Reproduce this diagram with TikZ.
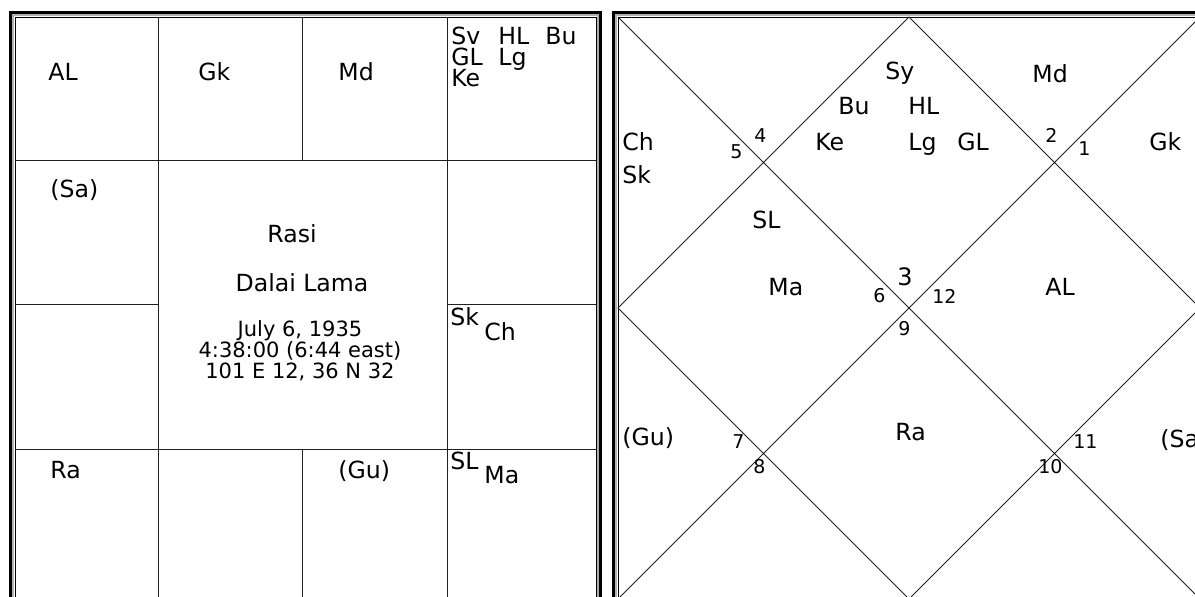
\documentclass[tikz,border=0pt]{standalone}
\usepackage{fontspec}
\setmainfont{DejaVu Sans}
\usepackage{xcolor}
\usetikzlibrary{positioning}
\definecolor{chgray}{HTML}{B0B0B0}
\definecolor{chline}{HTML}{202020}

\begin{document}
\begin{tikzpicture}[
    x=0.5pt, y=-0.5pt,
    font=\fontsize{11.8}{14}\selectfont,
    lbl/.style={anchor=base west, inner sep=0pt},
    mid/.style={anchor=base, inner sep=0pt},
    small/.style={mid, font=\fontsize{10.5}{13}\selectfont},
    num/.style={anchor=base west, inner sep=0pt, font=\fontsize{9.5}{11}\selectfont},
    frameout/.style={line width=1.75pt, draw=black},
    framemid/.style={line width=0.75pt, draw=chgray},
    framein/.style={line width=0.5pt, draw=black},
    cell/.style={line width=0.5pt, draw=chline}
  ]
    \useasboundingbox (0,0) rectangle (1195,596);
    \clip (0,0) rectangle (1195,596);

    % south indian chart (left)
    \draw[frameout] (10.5,12.5) rectangle (600.5,602.5);
    \draw[framemid] (13,15) rectangle (598,600);
    \draw[framein] (15,17) rectangle (596,598);
    \draw[cell] (158,17) -- (158,160) (302,17) -- (302,160) (447,17) -- (447,598)
      (15,160) -- (596,160) (15,449) -- (596,449) (158,449) -- (158,598) (302,449) -- (302,598)
      (158,160) -- (158,449) (15,304) -- (158,304) (447,304) -- (596,304);

    \node[lbl] (sAL) at (48,80) {AL};
    \node[lbl] (sGk) at (198,80) {Gk};
    \node[lbl] (sMd) at (338,80) {Md};
    \node[lbl] (sSv) at (451,44) {\makebox[23.5pt][l]{Sv}\makebox[23.5pt][l]{HL}Bu};
    \node[lbl] (sGL) at (451,65) {\makebox[23.5pt][l]{GL}Lg};
    \node[lbl] (sKe) at (451,86) {Ke};
    \node[lbl] (sSa) at (50,197) {(Sa)};
    \node[lbl] (sSk) at (450,325) {Sk};
    \node[lbl] (sCh) at (484,340) {Ch};
    \node[lbl] (sRa) at (50,478) {Ra};
    \node[lbl] (sGu) at (338,478) {(Gu)};
    \node[lbl] (sSL) at (450,469) {SL};
    \node[lbl] (sMa) at (484,483) {Ma};

    \node[mid] (rasi) at (292,242) {Rasi};
    \node[mid] (name) at (302,291) {Dalai Lama};
    \node[small] (date) at (300,336) {July 6, 1935};
    \node[small] (time) at (300,357) {4:38:00 (6:44 east)};
    \node[small] (place) at (300,378) {101 E 12, 36 N 32};

    % north indian chart (right)
    \draw[frameout] (613.5,12.5) rectangle (1204.5,603.5);
    \draw[framemid] (616,15) rectangle (1202,601);
    \draw[framein] (618,17) rectangle (1200,599);
    \draw[cell] (618,17) -- (1200,599) (1200,17) -- (618,599)
      (909,17) -- (1200,308) -- (909,599) -- (618,308) -- cycle;

    \node[lbl] (nCh) at (622,150) {Ch};
    \node[lbl] (nSk) at (622,183) {Sk};
    \node[num] (h5) at (730,158) {5};
    \node[num] (h4) at (754,142) {4};
    \node[lbl] (nSy) at (885,79) {Sy};
    \node[lbl] (nBu) at (838,114) {Bu};
    \node[lbl] (nHL) at (908,114) {HL};
    \node[lbl] (nKe) at (815,150) {Ke};
    \node[lbl] (nLg) at (908,150) {Lg};
    \node[lbl] (nGL) at (957,150) {GL};
    \node[lbl] (nMd) at (1032,82) {Md};
    \node[num] (h2) at (1045,142) {2};
    \node[num] (h1) at (1078,155) {1};
    \node[lbl] (nGk) at (1149,150) {Gk};
    \node[lbl] (nSL) at (752,228) {SL};
    \node[lbl] (nMa) at (768,295) {Ma};
    \node[num, font=\fontsize{12}{14}\selectfont] (h3) at (897,285) {3};
    \node[num] (h6) at (873,302) {6};
    \node[num] (h12) at (932,303) {12};
    \node[num] (h9) at (898,335) {9};
    \node[lbl] (nAL) at (1045,295) {AL};
    \node[lbl] (nGu) at (622,445) {(Gu)};
    \node[num] (h7) at (732,448) {7};
    \node[num] (h8) at (753,473) {8};
    \node[lbl] (nRa) at (895,440) {Ra};
    \node[num] (h11) at (1073,448) {11};
    \node[num] (h10) at (1038,473) {10};
    \node[lbl] (nSa) at (1160,447) {(Sa)};
\end{tikzpicture}
\end{document}
